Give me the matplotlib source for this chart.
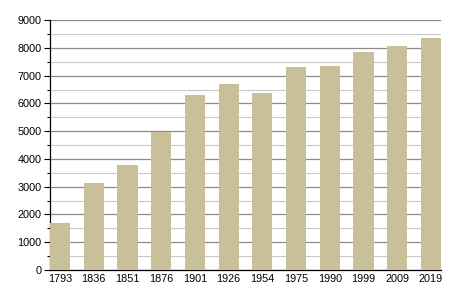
import matplotlib
matplotlib.use("Agg")
import matplotlib.pyplot as plt
from matplotlib.ticker import MultipleLocator

# population by census year
years = ["1793", "1836", "1851", "1876", "1901", "1926",
         "1954", "1975", "1990", "1999", "2009", "2019"]
population = [1700, 3150, 3780, 4970, 6300, 6700,
              6380, 7310, 7350, 7850, 8070, 8350]

plt.rcParams["font.family"] = ["Liberation Sans", "DejaVu Sans"]

fig = plt.figure(figsize=(4.5, 3), dpi=100)
ax = fig.add_axes([0.111, 0.1, 0.869, 0.833])

w = 0.6
x = range(len(years))
ax.bar(x, population, width=w, color="#c9bf99", zorder=3)

ax.set_ylim(0, 9000)
ax.set_xlim(-w / 2, len(years) - 1 + w / 2)
ax.yaxis.set_major_locator(MultipleLocator(1000))
ax.yaxis.set_minor_locator(MultipleLocator(500))
ax.grid(which="major", axis="y", color="#8c8c8c", linewidth=0.9, zorder=1)
ax.grid(which="minor", axis="y", color="#c8c8c8", linewidth=0.8, zorder=1)

ax.set_xticks(list(x))
ax.set_xticklabels(years)
ax.tick_params(axis="x", length=0, labelsize=7.8, pad=3)
ax.tick_params(axis="y", which="major", length=4, width=0.8, labelsize=7.8, pad=2)
ax.tick_params(axis="y", which="minor", length=2, width=0.8)

for s in ["top", "right"]:
    ax.spines[s].set_visible(False)
ax.spines["left"].set_linewidth(0.9)
ax.spines["bottom"].set_linewidth(0.9)

fig.savefig("out.png", dpi=100)
